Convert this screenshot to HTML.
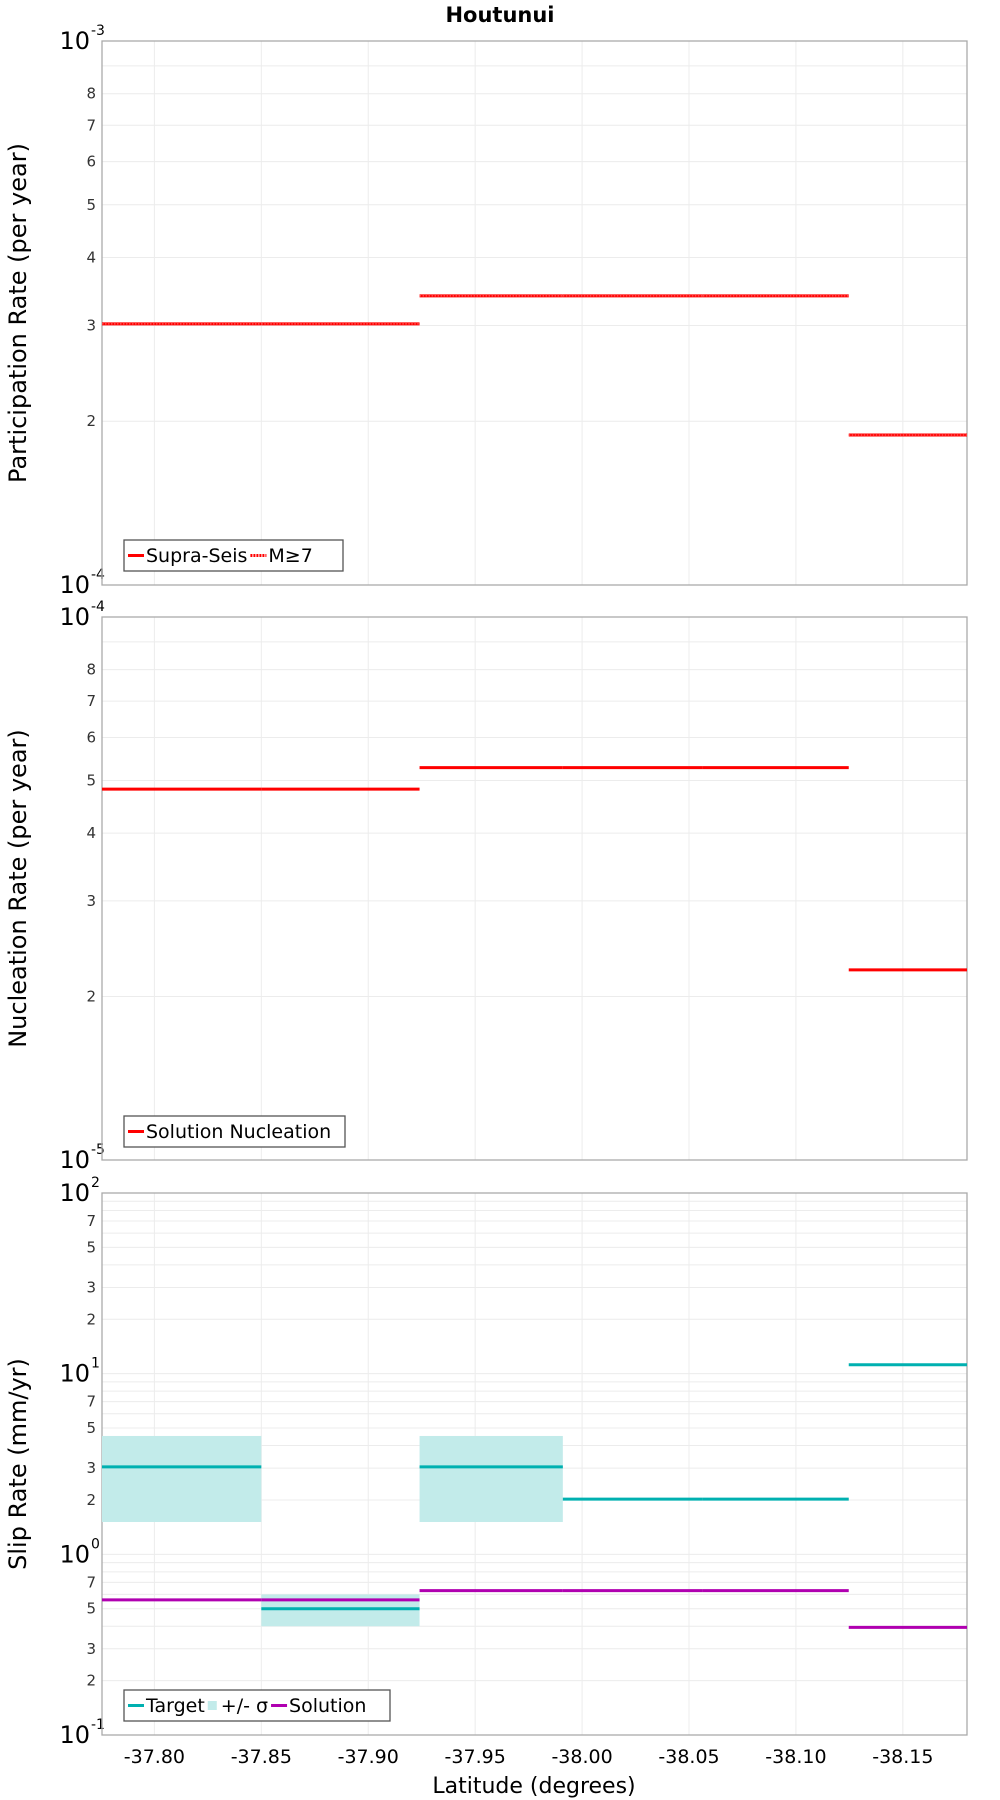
<!DOCTYPE html>
<html><head><meta charset="utf-8"><style>
html,body{margin:0;padding:0;background:#fff;width:1000px;height:1800px;overflow:hidden}
svg text{font-family:"DejaVu Sans","Liberation Sans",sans-serif}
</style></head><body>
<svg id="chart" width="1000" height="1800" xmlns="http://www.w3.org/2000/svg">
<text x="500" y="22" text-anchor="middle" font-size="21" font-weight="bold">Houtunui</text>
</svg>
<script>
const xTicks = [-37.80,-37.85,-37.90,-37.95,-38.00,-38.05,-38.10,-38.15];
const xTickLabels = ["-37.80","-37.85","-37.90","-37.95","-38.00","-38.05","-38.10","-38.15"];
const segStart = [-37.7755,-37.85,-37.924,-37.991,-38.0565,-38.1247];
const segEnd = [-37.85,-37.924,-37.991,-38.0565,-38.1247,-38.180];
const participation = [3.02e-4,3.02e-4,3.40e-4,3.40e-4,3.40e-4,1.887e-4];
const nucleation = [4.82e-5,4.82e-5,5.28e-5,5.28e-5,5.28e-5,2.24e-5];
const slipTarget = [3.05,0.50,3.05,2.02,2.02,11.2];
const slipHigh = [4.52,0.60,4.52,null,null,null];
const slipLow = [1.51,0.40,1.51,null,null,null];
const slipSolution = [0.56,0.56,0.63,0.63,0.63,0.394];

const NS="http://www.w3.org/2000/svg";
const svg=document.getElementById('chart');
const L=102,R=967;
const xMin=-37.7755,xMax=-38.180;
function xs(v){return L+(v-xMin)/(xMax-xMin)*(R-L);}
function mk(tag,attrs,parent){const e=document.createElementNS(NS,tag);for(const k in attrs)e.setAttribute(k,attrs[k]);(parent||svg).appendChild(e);return e;}

function panel(name,top,bot,expMin,expMax,labelDigits,title){
  const g=mk('g',{});
  
  
  const ys=v=>bot-(Math.log10(v)-expMin)/(expMax-expMin)*(bot-top);
  for(let e=expMin;e<expMax;e++){
    for(let d=2;d<=9;d++){
      const y=ys(d*Math.pow(10,e));
      mk('line',{x1:L,x2:R,y1:y,y2:y,stroke:'#ececec','stroke-width':1},g);
      if(labelDigits.includes(d)){
        const t=mk('text',{x:L-6,y:y+5,'text-anchor':'end','font-size':15,fill:'#333'},g);
        t.textContent=d;
        
        
      }
    }
  }
  for(let e=expMin;e<=expMax;e++){
    const y=ys(Math.pow(10,e));
    mk('line',{x1:L,x2:R,y1:y,y2:y,stroke:'#ececec','stroke-width':1},g);
    const t=mk('text',{x:L-12,y:y+8,'text-anchor':'end','font-size':24,fill:'#000'},g);
    t.textContent='10';
    
    
    const s=mk('text',{x:L-11,y:y-6,'text-anchor':'start','font-size':14,fill:'#000'},g);
    s.textContent=String(e);
    
    
  }
  xTicks.forEach(v=>{mk('line',{x1:xs(v),x2:xs(v),y1:top,y2:bot,stroke:'#ececec','stroke-width':1},g);});
  const frame=mk('rect',{x:L,y:top,width:R-L,height:bot-top,fill:'none',stroke:'#aaa','stroke-width':1.3},g);
  
  
  const tt=mk('text',{x:0,y:0,'text-anchor':'middle','font-size':24,fill:'#000',transform:`translate(26,${(top+bot)/2}) rotate(-90)`},g);
  tt.textContent=title;
  
  
  return {g,ys};
}

function steps(p,vals,color,name,dash,w){
  vals.forEach((v,i)=>{
    if(v==null)return;
    const y=p.ys(v);
    const ln=mk('line',{x1:xs(segStart[i]),x2:xs(segEnd[i]),y1:y,y2:y,stroke:color,'stroke-width':w||3},p.g);
    if(dash)ln.setAttribute('stroke-dasharray',dash);
    
    
  });
}

function legend(p,x,y,w,items){
  const lg=mk('g',{},p.g);
  
  
  mk('rect',{x:x,y:y,width:w,height:31,fill:'#fff',stroke:'#555','stroke-width':1.3},lg);
  let cx=x+4;
  items.forEach(it=>{
    if(it.box){mk('rect',{x:cx,y:y+11,width:9,height:9,fill:it.color},lg);cx+=13;}
    else{const l=mk('line',{x1:cx,x2:cx+16,y1:y+15.5,y2:y+15.5,stroke:it.color,'stroke-width':3},lg);if(it.dash)l.setAttribute('stroke-dasharray',it.dash);cx+=18;}
    const t=mk('text',{x:cx,y:y+22,'font-size':19,fill:'#000'},lg);
    t.textContent=it.label;
    
    
    cx+=t.getComputedTextLength()+3;
  });
}

const p1=panel('participation',41,585,-4,-3,[2,3,4,5,6,7,8],'Participation Rate (per year)');
steps(p1,participation,'#ff0000','supra-seis');
steps(p1,participation,'#ff6060','m-ge-7','1.5 1.5',1.2);
legend(p1,124,540,219,[{color:'#f00',label:'Supra-Seis'},{color:'#f00',label:'M≥7',dash:'2 1'}]);

const p2=panel('nucleation',617,1160,-5,-4,[2,3,4,5,6,7,8],'Nucleation Rate (per year)');
steps(p2,nucleation,'#ff0000','solution-nucleation');
legend(p2,124,1116,221,[{color:'#f00',label:'Solution Nucleation'}]);

const p3=panel('slip-rate',1193,1735,-1,2,[2,3,5,7],'Slip Rate (mm/yr)');
slipHigh.forEach((h,i)=>{
  if(h==null)return;
  const y1=p3.ys(h),y2=p3.ys(slipLow[i]);
  const r=mk('rect',{x:xs(segStart[i]),y:y1,width:xs(segEnd[i])-xs(segStart[i]),height:y2-y1,fill:'#c2ebea'},p3.g);
  
  
});
steps(p3,slipTarget,'#00b0b0','target');
steps(p3,slipSolution,'#b000b0','solution');
legend(p3,124,1690,266,[{color:'#00b0b0',label:'Target'},{color:'#c2ebea',label:'+/- σ',box:true},{color:'#b000b0',label:'Solution'}]);

xTicks.forEach((v,i)=>{
  const t=mk('text',{x:xs(v),y:1763,'text-anchor':'middle','font-size':19,fill:'#000'});
  t.textContent=xTickLabels[i];
  
  
});
const xt=mk('text',{x:534,y:1793,'text-anchor':'middle','font-size':22,fill:'#000'});
xt.textContent='Latitude (degrees)';


</script>
</body></html>
